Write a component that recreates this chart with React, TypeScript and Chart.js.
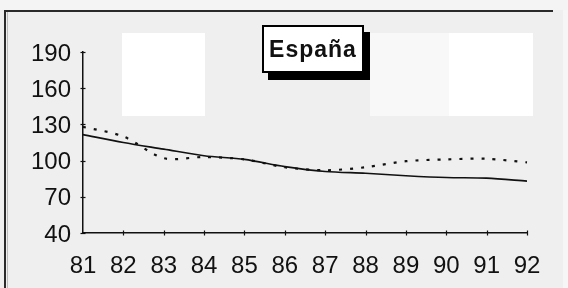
import React, { useEffect, useRef } from "react";
import { Chart, registerables } from "chart.js";

Chart.register(...registerables);

const categories = ["81", "82", "83", "84", "85", "86", "87", "88", "89", "90", "91", "92"];
const solidSeries = [121.5, 115, 109.5, 104, 101, 95, 91, 89.5, 87.5, 86, 85.5, 83];
const dottedSeries = [128, 120, 102, 103, 101, 94.5, 92, 94.5, 99.5, 101, 101.5, 98.5];
const yTicks = [40, 70, 100, 130, 160, 190];
const titleText = "España";

const FONT = "'Liberation Sans', Arial, Helvetica, sans-serif";
const INK = "#111111";

const crossTicks = {
  id: "crossTicks",
  afterDraw(chart: any) {
    const { ctx, chartArea, scales } = chart;
    ctx.save();
    ctx.strokeStyle = INK;
    ctx.lineWidth = 1.2;
    const ys = scales.y;
    yTicks.forEach((v) => {
      const py = Math.round(ys.getPixelForValue(v)) + 0.5;
      ctx.beginPath();
      ctx.moveTo(chartArea.left - 2.5, py);
      ctx.lineTo(chartArea.left + 2.5, py);
      ctx.stroke();
    });
    const xs = scales.x;
    categories.forEach((_, i) => {
      if (i === 0) return;
      const px = Math.round(xs.getPixelForValue(i)) + 0.5;
      ctx.beginPath();
      ctx.moveTo(px, chartArea.bottom - 2.5);
      ctx.lineTo(px, chartArea.bottom + 2.5);
      ctx.stroke();
    });
    ctx.restore();
  },
};

export default function App() {
  const ref = useRef<HTMLCanvasElement | null>(null);

  useEffect(() => {
    if (!ref.current) return;
    const chart = new Chart(ref.current, {
      type: "line",
      data: {
        labels: categories,
        datasets: [
          {
            label: "solid",
            data: solidSeries,
            borderColor: INK,
            borderWidth: 1.6,
            pointRadius: 0,
            tension: 0.3,
            fill: false,
          },
          {
            label: "dotted",
            data: dottedSeries,
            borderColor: INK,
            borderWidth: 2.2,
            borderDash: [3, 8],
            borderCapStyle: "butt",
            pointRadius: 0,
            tension: 0.3,
            fill: false,
          },
        ],
      },
      options: {
        responsive: false,
        animation: false,
        events: [],
        layout: { padding: { top: 52, right: 41, left: 0, bottom: 0 } },
        plugins: {
          legend: { display: false },
          tooltip: { enabled: false },
          title: { display: false },
        },
        scales: {
          x: {
            type: "category",
            offset: false,
            grid: { display: true, drawOnChartArea: false, drawTicks: false },
            border: { display: true, color: INK, width: 1.5 },
            ticks: {
              color: INK,
              font: { family: FONT, size: 24 },
              padding: 19,
              maxRotation: 0,
              autoSkip: false,
            },
            afterFit(scale: any) {
              scale.height = 55;
            },
          },
          y: {
            min: 40,
            max: 190,
            afterBuildTicks(scale: any) {
              scale.ticks = yTicks.map((v) => ({ value: v }));
            },
            grid: { display: true, drawOnChartArea: false, drawTicks: false },
            border: { display: true, color: INK, width: 1.5 },
            ticks: {
              color: INK,
              font: { family: FONT, size: 24 },
              padding: 12,
              labelOffset: 2,
            },
            afterFit(scale: any) {
              scale.width = 83;
            },
          },
        },
      },
      plugins: [crossTicks],
    });
    return () => chart.destroy();
  }, []);

  return (
    <div
      style={{
        position: "fixed",
        left: 0,
        top: 0,
        width: 568,
        height: 288,
        background: "#efefef",
        overflow: "hidden",
      }}
    >
      <div style={{ position: "absolute", left: 0, top: 0, width: 568, height: 10, background: "#f4f4f4" }} />
      <div style={{ position: "absolute", left: 563, top: 10, width: 5, height: 278, background: "#f6f6f6" }} />
      <div style={{ position: "absolute", left: 5, top: 10, width: 548, height: 2, background: "#2a2a2a" }} />
      <div style={{ position: "absolute", left: 4, top: 10, width: 2, height: 278, background: "#2a2a2a" }} />
      <div style={{ position: "absolute", left: 7, top: 12, width: 1, height: 276, background: "#bbbbbb" }} />
      <div style={{ position: "absolute", left: 122, top: 33, width: 83, height: 83, background: "#ffffff" }} />
      <div style={{ position: "absolute", left: 370, top: 33, width: 79, height: 83, background: "#f8f8f8" }} />
      <div style={{ position: "absolute", left: 449, top: 33, width: 84, height: 83, background: "#ffffff" }} />
      <canvas
        ref={ref}
        width={568}
        height={288}
        style={{ position: "absolute", left: 0, top: 0, width: 568, height: 288 }}
      />
      <div
        style={{
          position: "absolute",
          left: 262,
          top: 25,
          width: 98,
          height: 44,
          border: "2px solid #000",
          background: "#ffffff",
          boxShadow: "6px 7px 0 #000",
          display: "flex",
          alignItems: "center",
          justifyContent: "center",
          fontFamily: FONT,
          fontWeight: 700,
          fontSize: 23,
          color: INK,
          letterSpacing: 1,
        }}
      >
        {titleText}
      </div>
    </div>
  );
}
